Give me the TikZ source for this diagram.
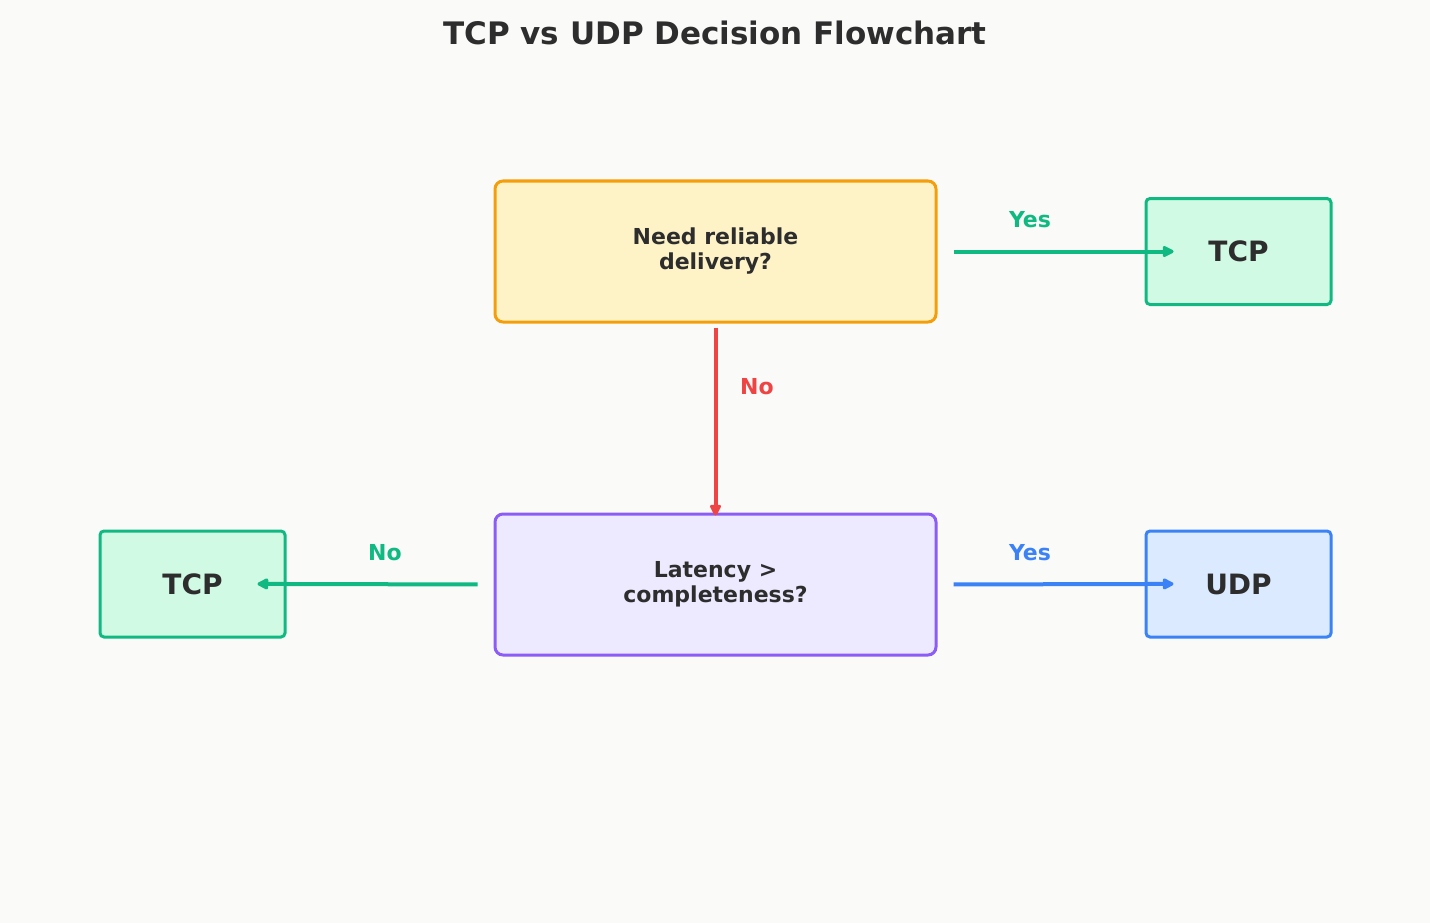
\documentclass[tikz,border=0pt]{standalone}
\usepackage{fontspec}
\setmainfont{DejaVu Sans}
\usetikzlibrary{arrows.meta}
\definecolor{bg}{HTML}{FAFAF9}
\definecolor{txt}{HTML}{2D2D2D}
\definecolor{amb}{HTML}{F59E0B}\definecolor{ambf}{HTML}{FEF3C7}
\definecolor{pur}{HTML}{8B5CF6}\definecolor{purf}{HTML}{EDE9FE}
\definecolor{grn}{HTML}{10B981}\definecolor{grnf}{HTML}{D1FAE5}
\definecolor{blu}{HTML}{3B82F6}\definecolor{bluf}{HTML}{DBEAFE}
\definecolor{red}{HTML}{EF4444}
\begin{document}
\begin{tikzpicture}[x=1pt,y=-1pt,
 q/.style={draw,line width=3pt,rounded corners=8pt,minimum width=441pt,minimum height=141pt,align=center,font=\bfseries\fontsize{22}{25}\selectfont,text=txt},
 r/.style={draw,line width=3pt,rounded corners=4pt,minimum width=185pt,minimum height=106pt,font=\bfseries\fontsize{28}{32}\selectfont,text=txt},
 ar/.style={line width=4pt,-{Stealth[length=13pt,width=12pt,inset=0pt,round]}},
 lb/.style={font=\bfseries\fontsize{22}{26}\selectfont}]
\fill[bg] (0,0) rectangle (1430,923);
\node[font=\bfseries\fontsize{31}{36}\selectfont,text=txt] (title) at (715,33) {TCP vs UDP Decision Flowchart};
\node[q,draw=amb,fill=ambf] (q1) at (715.5,251.5) {Need reliable\\delivery?};
\node[q,draw=pur,fill=purf] (q2) at (715.5,584.5) {Latency >\\completeness?};
\node[r,draw=grn,fill=grnf] (t1) at (1238.5,251.5) {TCP};
\node[r,draw=blu,fill=bluf] (u) at (1238.5,584) {UDP};
\node[r,draw=grn,fill=grnf] (t2) at (192.5,584) {TCP};
\draw[ar,grn,shorten <=16pt,shorten >=-29pt] (q1.east) -- (t1.west);
\node[lb,text=grn] (l1) at (1030,220) {Yes};
\draw[ar,red,shorten <=4pt,shorten >=-3pt] (q1.south) -- (q2.north);
\node[lb,text=red] (l2) at (757,387) {No};
\draw[ar,blu,shorten <=16pt,shorten >=-29pt] (q2.east) -- (u.west);
\node[lb,text=blu] (l3) at (1030,553) {Yes};
\draw[ar,grn,shorten <=16pt,shorten >=-29pt] (q2.west) -- (t2.east);
\node[lb,text=grn] (l4) at (385,553) {No};
\end{tikzpicture}
\end{document}
